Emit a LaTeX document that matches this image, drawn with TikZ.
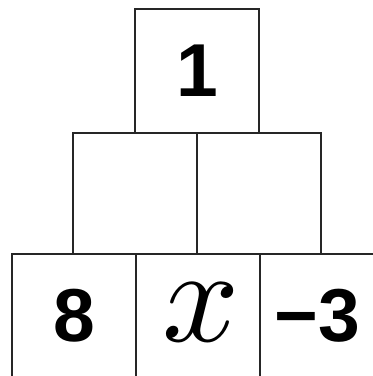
\documentclass[tikz,border=0pt]{standalone}
\usepackage{fontspec}
\usepackage{unicode-math}
\setmainfont{Liberation Sans}
\setmathfont{Latin Modern Math}
\tikzset{cell/.style={draw=black!85, line width=1.3pt, minimum width=124pt,
    minimum height=124pt, inner sep=0pt, font=\fontsize{75}{75}\selectfont\bfseries}}
\begin{document}
\begin{tikzpicture}[x=1pt, y=-1pt]
  \useasboundingbox (0,0) rectangle (373,376);
  \clip (0,0) rectangle (373,376);
  % top row
  \node[cell] (top) at (197,71) {1};
  % middle row
  \node[cell, minimum height=121pt] (midL) at (135,193.5) {};
  \node[cell, minimum height=121pt] (midR) at (259,193.5) {};
  % bottom row
  \node[cell] (botL) at (74,316) {8};
  \node[cell] (botM) at (198,316) {};
  \node[cell] (botR) at (322,316) {};
  \node[font=\fontsize{135}{135}\selectfont] (xv) at (201,312) {$\mathbfscr{x}$};
  \node[font=\fontsize{75}{75}\selectfont\bfseries] (m3) at (317,316) {−3};
\end{tikzpicture}
\end{document}
